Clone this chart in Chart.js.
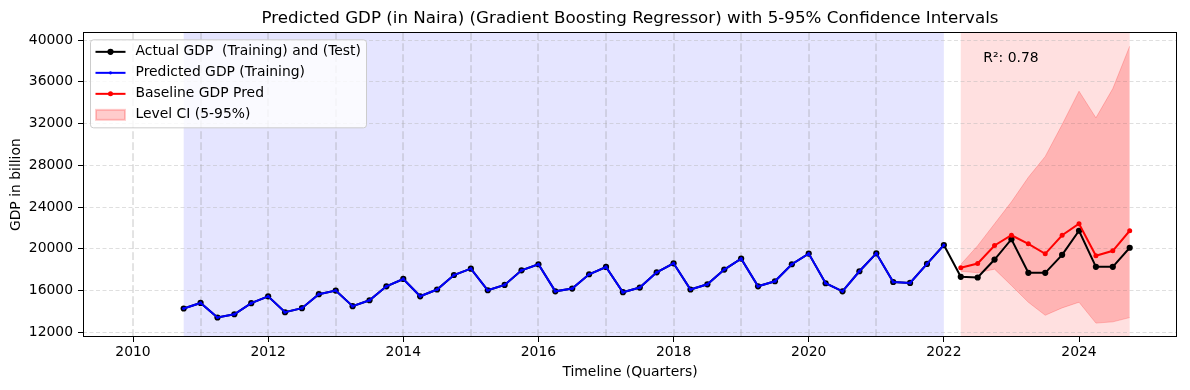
<!DOCTYPE html>
<html>
<head>
<meta charset="utf-8">
<title>Predicted GDP (in Naira)</title>
<script src="https://cdn.jsdelivr.net/npm/chart.js@4.4.1/dist/chart.umd.min.js"></script>
<style>
  html, body { margin: 0; padding: 0; background: #fff; }
  canvas { display: block; }
</style>
</head>
<body>
<canvas id="gdpChart" width="1190" height="390"></canvas>
<script>
// quarters ---------------------------------------------
const trainQuarters = [
  "2010-Q4",
  "2011-Q1", "2011-Q2", "2011-Q3", "2011-Q4",
  "2012-Q1", "2012-Q2", "2012-Q3", "2012-Q4",
  "2013-Q1", "2013-Q2", "2013-Q3", "2013-Q4",
  "2014-Q1", "2014-Q2", "2014-Q3", "2014-Q4",
  "2015-Q1", "2015-Q2", "2015-Q3", "2015-Q4",
  "2016-Q1", "2016-Q2", "2016-Q3", "2016-Q4",
  "2017-Q1", "2017-Q2", "2017-Q3", "2017-Q4",
  "2018-Q1", "2018-Q2", "2018-Q3", "2018-Q4",
  "2019-Q1", "2019-Q2", "2019-Q3", "2019-Q4",
  "2020-Q1", "2020-Q2", "2020-Q3", "2020-Q4",
  "2021-Q1", "2021-Q2", "2021-Q3", "2021-Q4",
  "2022-Q1",
];
const testQuarters = [
  "2022-Q2", "2022-Q3", "2022-Q4",
  "2023-Q1", "2023-Q2", "2023-Q3", "2023-Q4",
  "2024-Q1", "2024-Q2", "2024-Q3", "2024-Q4",
];

// values (billion) ---------------------------------------
// actual GDP in training period (prediction lies on top of it)
const trainGdp = [
  14280,
  14810, 13420, 13730, 14790,
  15450, 13920, 14310, 15650,
  16000, 14500, 15070, 16410,
  17110, 15450, 16100, 17490,
  18100, 16030, 16540, 17940,
  18520, 15930, 16190, 17560,
  18260, 15840, 16290, 17750,
  18610, 16100, 16600, 18010,
  19060, 16410, 16890, 18520,
  19540, 16700, 15930, 17850,
  19570, 16820, 16730, 18550,
  20360,
];
const testGdp = [17320, 17250, 18970, 20920, 17700, 17700, 19420, 21730, 18270, 18270, 20100];
const baselinePred = [18180, 18590, 20320, 21300, 20480, 19520, 21300, 22400, 19330, 19810, 21730];
const ciUpper = [18500, 20300, 22400, 24500, 26850, 28850, 31900, 35100, 32550, 35350, 39410];
const ciLower = [17850, 17700, 18050, 16480, 14880, 13630, 14340, 14880, 12880, 13000, 13410];

// axes ----------------------------------------------------
const xTicks = [2010, 2012, 2014, 2016, 2018, 2020, 2022, 2024];
const xTickLabels = ["2010", "2012", "2014", "2016", "2018", "2020", "2022", "2024"];
const yTicks = [12000, 16000, 20000, 24000, 28000, 32000, 36000, 40000];
const yTickLabels = ["12000", "16000", "20000", "24000", "28000", "32000", "36000", "40000"];
const yearLines = [2010, 2011, 2012, 2013, 2014, 2015, 2016, 2017, 2018, 2019, 2020, 2021];
const r2Text = "R²: 0.78";

// "2010-Q4" -> 2010.75
function quarterToYear(q) {
  const parts = q.split("-Q");
  return Number(parts[0]) + (Number(parts[1]) - 1) / 4;
}
function toPoints(quarters, values) {
  return quarters.map((q, i) => ({ x: quarterToYear(q), y: values[i] }));
}

const FONT = "DejaVu Sans";
Chart.defaults.font.family = FONT;
Chart.defaults.color = "#000";

// shaded periods + yearly dashed lines, under the grid
const spanPlugin = {
  id: "spans",
  beforeDraw(chart) {
    const { ctx, chartArea: a, scales: { x } } = chart;
    function span(from, to, color) {
      const x1 = x.getPixelForValue(from);
      const x2 = x.getPixelForValue(to);
      ctx.fillStyle = color;
      ctx.fillRect(x1, a.top, x2 - x1, a.bottom - a.top);
    }
    ctx.save();
    span(quarterToYear(trainQuarters[0]), quarterToYear(trainQuarters[trainQuarters.length - 1]), "rgba(0,0,255,0.1)");
    span(quarterToYear(testQuarters[0]), quarterToYear(testQuarters[testQuarters.length - 1]), "rgba(255,0,0,0.12)");
    ctx.strokeStyle = "rgba(128,128,128,0.24)";
    ctx.lineWidth = 1.8;
    ctx.setLineDash([7.7, 3.3]);
    yearLines.forEach(function (yr) {
      const px = Math.round(x.getPixelForValue(yr));
      ctx.beginPath();
      ctx.moveTo(px, a.top);
      ctx.lineTo(px, a.bottom);
      ctx.stroke();
    });
    ctx.restore();
  },
};

// frame, legend box and R2 text
const overlayPlugin = {
  id: "overlay",
  afterDraw(chart) {
    const { ctx, chartArea: a } = chart;
    const ds = chart.data.datasets;
    ctx.save();
    // frame
    ctx.strokeStyle = "#000";
    ctx.lineWidth = 1;
    ctx.strokeRect(Math.round(a.left) + 0.5, Math.round(a.top) + 0.5,
      Math.round(a.right - a.left) - 1, Math.round(a.bottom - a.top) - 1);

    // R2
    ctx.font = "13.9px '" + FONT + "'";
    ctx.fillStyle = "#000";
    ctx.textBaseline = "middle";
    ctx.textAlign = "left";
    ctx.fillText(r2Text, a.left + 0.823 * (a.right - a.left), a.bottom - 0.916 * (a.bottom - a.top));

    // legend
    const bx = a.left + 7.5, by = a.top + 7.5, bw = 276, bh = 88;
    ctx.beginPath();
    ctx.roundRect(bx, by, bw, bh, 3);
    ctx.fillStyle = "rgba(255,255,255,0.8)";
    ctx.fill();
    ctx.strokeStyle = "#cccccc";
    ctx.lineWidth = 1;
    ctx.stroke();

    const items = [
      { label: ds[2].label, d: ds[2] },
      { label: ds[1].label, d: ds[1] },
      { label: ds[0].label, d: ds[0] },
      { label: "Level CI (5-95%)", patch: true },
    ];
    items.forEach(function (it, i) {
      const cy = by + 12 + i * 21;
      const x1 = bx + 5, x2 = bx + 35;
      if (it.patch) {
        ctx.fillStyle = "rgba(255,0,0,0.2)";
        ctx.fillRect(x1 + 0.5, cy - 5, 29, 10);
        ctx.strokeStyle = "rgba(255,0,0,0.2)";
        ctx.strokeRect(x1 + 0.5, cy - 5, 29, 10);
      } else {
        ctx.strokeStyle = it.d.borderColor;
        ctx.lineWidth = it.d.borderWidth;
        ctx.beginPath();
        ctx.moveTo(x1, cy);
        ctx.lineTo(x2, cy);
        ctx.stroke();
        ctx.fillStyle = it.d.pointBackgroundColor;
        ctx.beginPath();
        ctx.arc((x1 + x2) / 2, cy, it.d.pointRadius, 0, Math.PI * 2);
        ctx.fill();
      }
      ctx.fillStyle = "#000";
      ctx.fillText(it.label, bx + 45, cy);
    });
    ctx.restore();
  },
};

const actualPoints = toPoints(trainQuarters.concat(testQuarters), trainGdp.concat(testGdp));

new Chart(document.getElementById("gdpChart"), {
  type: "line",
  data: {
    datasets: [
      {
        label: "Baseline GDP Pred",
        data: toPoints(testQuarters, baselinePred),
        borderColor: "#ff0000",
        pointBackgroundColor: "#ff0000",
        borderWidth: 2,
        pointRadius: 2.5,
        pointBorderWidth: 0,
      },
      {
        label: "Predicted GDP (Training)",
        data: toPoints(trainQuarters, trainGdp),
        borderColor: "#0000ff",
        pointBackgroundColor: "#0000ff",
        borderWidth: 2,
        pointRadius: 1.6,
        pointBorderWidth: 0,
      },
      {
        label: "Actual GDP  (Training) and (Test)",
        data: actualPoints,
        borderColor: "#000000",
        pointBackgroundColor: "#000000",
        borderWidth: 2,
        pointRadius: 3.1,
        pointBorderWidth: 0,
      },
      {
        label: "CI upper",
        data: toPoints(testQuarters, ciUpper),
        borderColor: "rgba(255,0,0,0.2)",
        backgroundColor: "rgba(255,0,0,0.2)",
        borderWidth: 1,
        pointRadius: 0,
        fill: "+1",
      },
      {
        label: "CI lower",
        data: toPoints(testQuarters, ciLower),
        borderColor: "rgba(255,0,0,0.2)",
        borderWidth: 1,
        pointRadius: 0,
        fill: false,
      },
    ],
  },
  options: {
    responsive: false,
    animation: false,
    devicePixelRatio: 1,
    layout: { padding: { top: 0, right: 13, bottom: 0, left: 0 } },
    plugins: {
      legend: { display: false },
      tooltip: { enabled: false },
      title: {
        display: true,
        text: "Predicted GDP (in Naira) (Gradient Boosting Regressor) with 5-95% Confidence Intervals",
        font: { size: 16.7, weight: "normal" },
        color: "#000",
        padding: { top: 8.5, bottom: 3.8 },
        fullSize: false,
      },
    },
    scales: {
      x: {
        type: "linear",
        min: 2009.26,
        max: 2025.45,
        afterBuildTicks: (s) => { s.ticks = xTicks.map((v) => ({ value: v })); },
        afterFit: (s) => { s.height = 53; },
        ticks: {
          callback: (v, i) => xTickLabels[i],
          font: { size: 13.9 },
          color: "#000",
          padding: 2,
          maxRotation: 0,
          autoSkip: false,
        },
        grid: { drawOnChartArea: false, drawTicks: true, tickLength: 5, tickColor: "#000", tickWidth: 1 },
        border: { display: false },
        title: {
          display: true,
          text: "Timeline (Quarters)",
          font: { size: 13.9 },
          color: "#000",
          padding: { top: 0, bottom: 9.7 },
        },
      },
      y: {
        type: "linear",
        min: 11550,
        max: 40740,
        afterBuildTicks: (s) => { s.ticks = yTicks.map((v) => ({ value: v })); },
        afterFit: (s) => { s.width = 83; },
        ticks: {
          callback: (v, i) => yTickLabels[i],
          font: { size: 13.9 },
          color: "#000",
          padding: 5,
        },
        grid: {
          color: "rgba(176,176,176,0.5)",
          lineWidth: 0.8,
          tickLength: 5,
          tickColor: "#000",
          tickWidth: 1,
        },
        border: { display: false, dash: [4, 2.5] },
        title: {
          display: true,
          text: "GDP in billion",
          font: { size: 13.9 },
          color: "#000",
          padding: { top: 7.7, bottom: 0 },
        },
      },
    },
  },
  plugins: [spanPlugin, overlayPlugin],
});
</script>
</body>
</html>
